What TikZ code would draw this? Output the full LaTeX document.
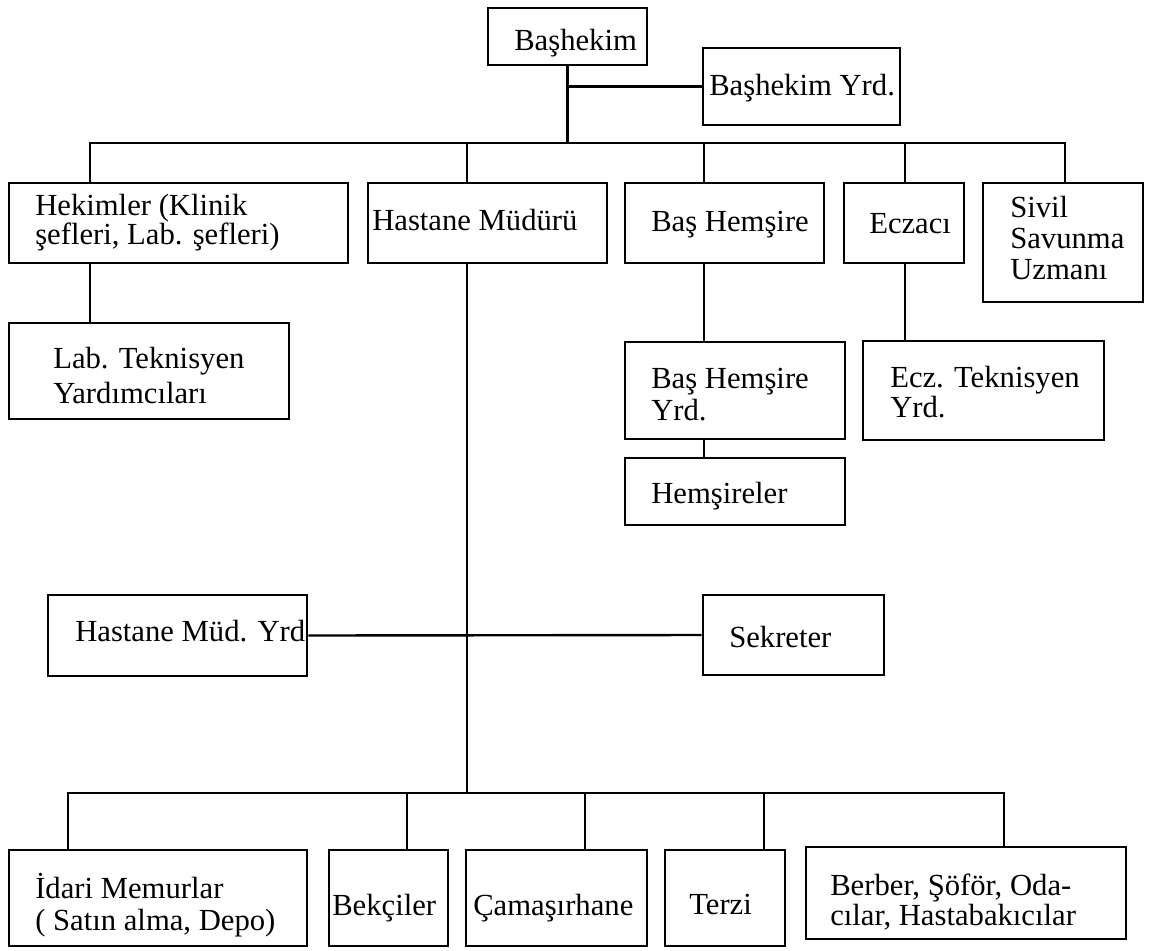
\documentclass[tikz,border=0pt]{standalone}
\usepackage{fontspec}
\setmainfont{Liberation Serif}
\usetikzlibrary{fit}
\newcommand{\mytwo}[3]{\vtop{\baselineskip=#1\lineskiplimit=-100pt\hbox{#2}\hbox{#3}}}
\newcommand{\mythree}[4]{\vtop{\baselineskip=#1\lineskiplimit=-100pt\hbox{#2}\hbox{#3}\hbox{#4}}}
\begin{document}
\begin{tikzpicture}[x=0.75pt,y=-0.75pt,
  box/.style={draw, line width=1.9pt, inner sep=0pt},
  txt/.style={inner sep=0pt, anchor=base west, font=\fontsize{23pt}{27pt}\selectfont},
  con/.style={line width=1.8pt}]
\useasboundingbox (0,0) rectangle (1153,950);
\fill[white] (0,0) rectangle (1153,950);

% ---- boxes ----
\node[box, fit={(488,8) (647,65)}] (bh) {};
\node[box, fit={(703,48) (900,125)}] (bhy) {};
\node[box, fit={(9,183) (348,263)}] (hek) {};
\node[box, fit={(368,183) (607,263)}] (hm) {};
\node[box, fit={(625,183) (824,263)}] (bhem) {};
\node[box, fit={(844,183) (964,263)}] (ecz) {};
\node[box, fit={(983,183) (1143,302)}] (siv) {};
\node[box, fit={(9,323) (289,419)}] (lab) {};
\node[box, fit={(625,342) (845,439)}] (bhyrd) {};
\node[box, fit={(625,458) (845,525)}] (hems) {};
\node[box, fit={(863,341) (1104,440)}] (ecztek) {};
\node[box, fit={(48,595) (307,676)}] (hmy) {};
\node[box, fit={(703,595) (884,675)}] (sek) {};
\node[box, fit={(9,850) (307,946)}] (idari) {};
\node[box, fit={(329,850) (448,946)}] (bek) {};
\node[box, fit={(466,850) (647,946)}] (cam) {};
\node[box, fit={(665,850) (785,946)}] (terzi) {};
\node[box, fit={(806,847) (1126,939)}] (berber) {};

% ---- texts ----
\node[txt] (tbh) at (514,50) {Başhekim};
\node[txt] (tbhy) at (709,95) {Başhekim Yrd.};
\node[txt] (thek) at (35,215) {\mytwo{21.8pt}{Hekimler (Klinik}{şefleri, Lab. şefleri)}};
\node[txt] (thm) at (372,230) {Hastane Müdürü};
\node[txt] (tbhem) at (651,231) {Baş Hemşire};
\node[txt] (tecz) at (869,233) {Eczacı};
\node[txt] (tsiv) at (1010,217) {\mythree{23.6pt}{Sivil}{Savunma}{Uzmanı}};
\node[txt] (tlab) at (53,368) {\mytwo{26.25pt}{Lab. Teknisyen}{Yardımcıları}};
\node[txt] (tbhyrd) at (651,388) {\mytwo{24pt}{Baş Hemşire}{Yrd.}};
\node[txt] (thems) at (651,503) {Hemşireler};
\node[txt] (tecztek) at (890,387) {\mytwo{22.5pt}{Ecz. Teknisyen}{Yrd.}};
\node[txt] (thmy) at (75,641) {Hastane Müd. Yrd};
\node[txt] (tsek) at (729,647) {Sekreter};
\node[txt] (tidari) at (35,898) {\mytwo{24pt}{İdari Memurlar}{( Satın alma, Depo)}};
\node[txt] (tbek) at (332,915) {Bekçiler};
\node[txt] (tcam) at (473,915) {Çamaşırhane};
\node[txt] (tterzi) at (689,914) {Terzi};
\node[txt] (tberber) at (830,895) {\mytwo{22.5pt}{Berber, Şöför, Oda-}{cılar, Hastabakıcılar}};

% ---- junction coordinates ----
\coordinate (jb) at (567.5,143);
\coordinate (bL) at (90,143);
\coordinate (bR) at (1065,143);
\coordinate (d2) at (467,143);
\coordinate (d3) at (704,143);
\coordinate (d4) at (905,143);
\coordinate (cL) at (68,793);
\coordinate (cR) at (1004,793);
\coordinate (cM) at (467,793);
\coordinate (c2) at (407,793);
\coordinate (c3) at (585,793);
\coordinate (c4) at (764,793);

% ---- connectors ----
\draw[con] (bh.south) -- (jb);
\draw[con] (bhy.west) -- (bhy.west -| bh.south);
\draw[con] (hek.north -| bL) -- (bL) -- (bR) -- (siv.north -| bR);
\draw[con] (d2) -- (hm.north -| d2);
\draw[con] (d3) -- (bhem.north -| d3);
\draw[con] (d4) -- (ecz.north -| d4);
\draw[con] (hek.south -| bL) -- (lab.north -| bL);
\draw[con] (bhem.south -| d3) -- (bhyrd.north -| d3);
\draw[con] (bhyrd.south -| d3) -- (hems.north -| d3);
\draw[con] (ecz.south -| d4) -- (ecztek.north -| d4);
\draw[con] (hm.south -| d2) -- (cM);
\draw[con] (hmy.east) -- (sek.west);
\draw[con] (idari.north -| cL) -- (cL) -- (cR) -- (berber.north -| cR);
\draw[con] (c2) -- (bek.north -| c2);
\draw[con] (c3) -- (cam.north -| c3);
\draw[con] (c4) -- (terzi.north -| c4);
\end{tikzpicture}
\end{document}
